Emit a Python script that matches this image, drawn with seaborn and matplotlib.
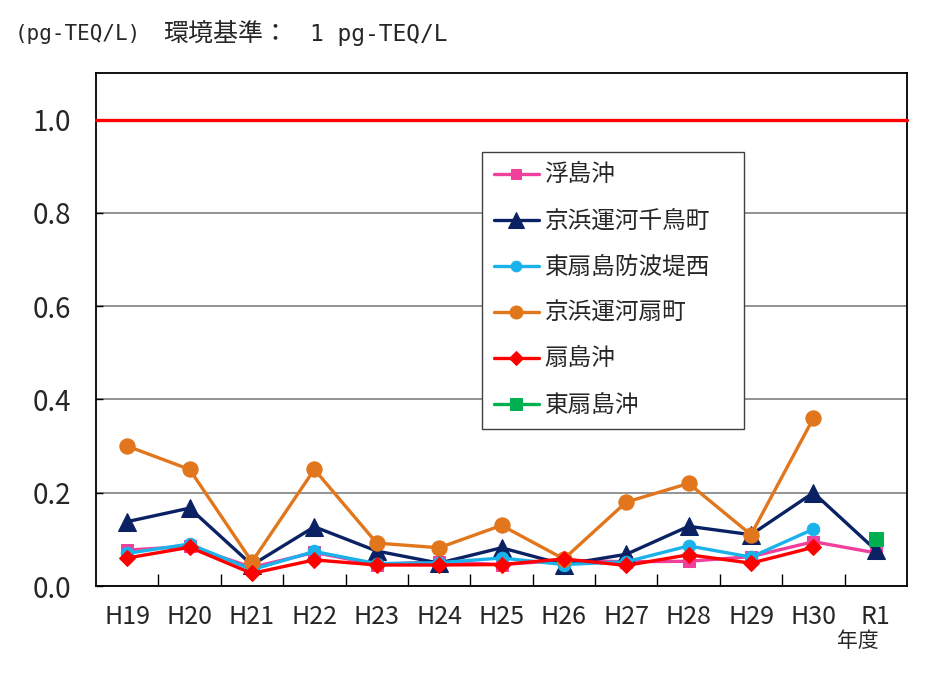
import numpy as np
import pandas as pd
import matplotlib
matplotlib.use("Agg")
import matplotlib.pyplot as plt
import seaborn as sns

years = ["H19", "H20", "H21", "H22", "H23", "H24", "H25", "H26", "H27", "H28", "H29", "H30", "R1"]
names = ["浮島沖", "京浜運河千鳥町", "東扇島防波堤西", "京浜運河扇町", "扇島沖", "東扇島沖"]
nan = np.nan
ukishima = [0.077, 0.085, 0.040, 0.072, 0.046, 0.052, 0.046, 0.055, 0.052, 0.053, 0.063, 0.095, 0.071]
chidori = [0.138, 0.167, 0.045, 0.127, 0.075, 0.049, 0.082, 0.046, 0.068, 0.128, 0.110, 0.200, 0.077]
higashi_bouha = [0.070, 0.090, 0.035, 0.074, 0.048, 0.050, 0.060, 0.046, 0.052, 0.086, 0.062, 0.122, nan]
ougimachi = [0.300, 0.250, 0.052, 0.250, 0.092, 0.082, 0.130, 0.058, 0.180, 0.220, 0.110, 0.360, nan]
ougishima = [0.060, 0.083, 0.027, 0.056, 0.045, 0.045, 0.046, 0.058, 0.044, 0.067, 0.049, 0.083, nan]
higashi_oki = [nan, nan, nan, nan, nan, nan, nan, nan, nan, nan, nan, nan, 0.100]
series = [ukishima, chidori, higashi_bouha, ougimachi, ougishima, higashi_oki]
standard = 1.0

colors = ["#F0409C", "#0A2263", "#1AB2EA", "#E2761C", "#FF0000", "#00B050"]
markers = ["s", "^", "o", "o", "D", "s"]
msizes = [8.5, 13, 9, 11, 8.5, 9.5]

sns.set_theme(style="white")
plt.rcParams["font.family"] = ["Noto Sans CJK JP", "DejaVu Sans"]

fig = plt.figure(figsize=(9.51, 6.77), dpi=100)
ax = fig.add_axes([96/951, 1-586/677, (907-96)/951, (586-73)/677])

ax.axhline(standard, color="#FF0000", lw=2.4, zorder=3, clip_on=False)

idx = np.arange(len(years))
for name, vals, c, m, ms in zip(names, series, colors, markers, msizes):
    df = pd.DataFrame({"x": idx, "y": vals}).dropna()
    sns.lineplot(data=df, x="x", y="y", ax=ax, color=c, lw=2.4, marker=m,
                 markersize=ms, markeredgecolor=c, label=name, zorder=4)

ax.set_xlim(-0.5, 12.5)
ax.set_ylim(0, 1.1)
ax.set_yticks([0.0, 0.2, 0.4, 0.6, 0.8, 1.0])
ax.set_yticklabels(["0.0", "0.2", "0.4", "0.6", "0.8", "1.0"], fontsize=20)
ax.set_xticks(idx)
ax.set_xticklabels(years, fontsize=18)
ax.set_xticks(idx[:-1] + 0.5, minor=True)
ax.tick_params(axis="x", which="major", length=0, pad=13)
ax.tick_params(axis="x", which="minor", direction="in", length=9, width=1, color="black", bottom=True)
ax.tick_params(axis="y", which="major", direction="in", length=5, width=1, color="black", left=True, pad=18)
ax.grid(axis="y", color="#808080", lw=1.2)
ax.grid(axis="x", visible=False)
ax.set_xlabel("")
ax.set_ylabel("")
for s in ax.spines.values():
    s.set_color("black")
    s.set_linewidth(1.3)

x0 = (482-96)/811
y1 = (586-152)/513
w = (744-482)/811
h = (428-152)/513
leg = ax.legend(loc="upper left", bbox_to_anchor=(x0, y1 - h, w, h), mode="expand",
                fontsize=17, frameon=True, fancybox=False, framealpha=1,
                edgecolor="#404040", handlelength=1.9, labelspacing=0.98,
                borderpad=0.5, handletextpad=0.25, borderaxespad=0, markerscale=0.85)
leg.get_frame().set_linewidth(1.0)

fig.text(15/951, 1-34/677, "(pg-TEQ/L)", fontsize=15, va="center", ha="left",
         family=["DejaVu Sans Mono", "Noto Sans CJK JP"])
fig.text(163/951, 1-34/677, "環境基準：", fontsize=18, va="center", ha="left")
fig.text(310/951, 1-34/677, "1 pg-TEQ/L", fontsize=16.5, va="center", ha="left",
         family=["DejaVu Sans Mono", "Noto Sans CJK JP"])
fig.text(858/951, 1-641/677, "年度", fontsize=15, va="center", ha="center")

fig.savefig("out.png", dpi=100)
